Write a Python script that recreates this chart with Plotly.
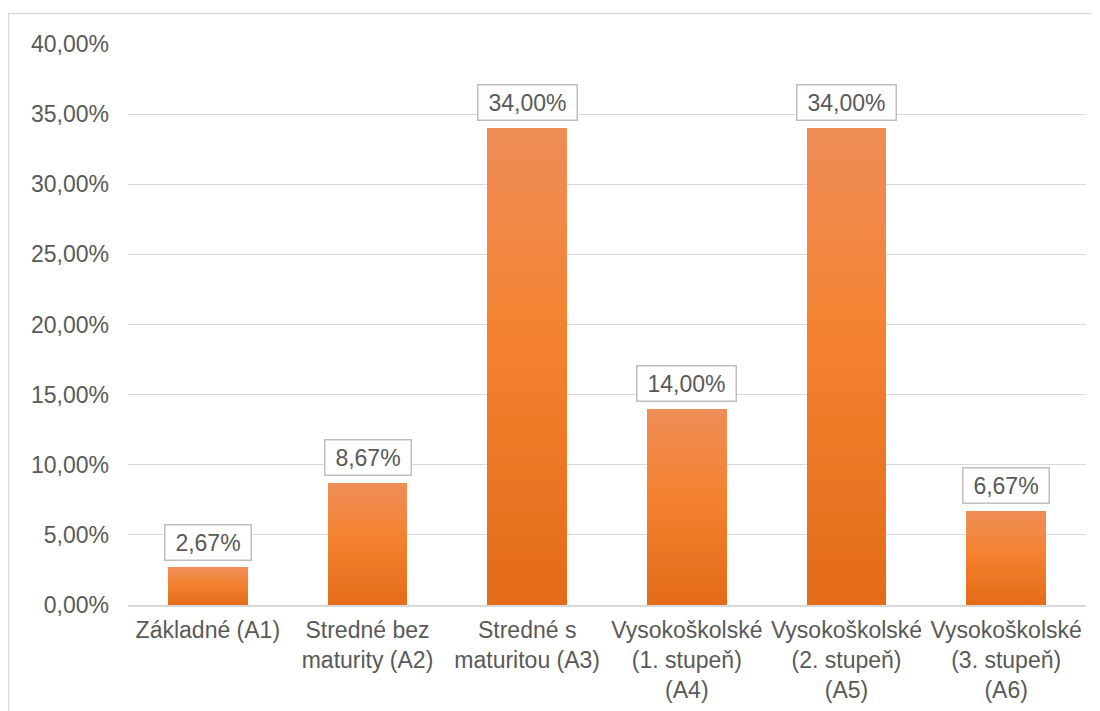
import plotly.graph_objects as go

categories = [
    "Základné (A1)",
    "Stredné bez<br>maturity (A2)",
    "Stredné s<br>maturitou (A3)",
    "Vysokoškolské<br>(1. stupeň)<br>(A4)",
    "Vysokoškolské<br>(2. stupeň)<br>(A5)",
    "Vysokoškolské<br>(3. stupeň)<br>(A6)",
]
values = [0.0267, 0.0867, 0.34, 0.14, 0.34, 0.0667]
labels = ["2,67%", "8,67%", "34,00%", "14,00%", "34,00%", "6,67%"]
tick_vals = [0, 0.05, 0.10, 0.15, 0.20, 0.25, 0.30, 0.35, 0.40]

# gradient stops (bottom -> middle -> top)
grad_stops = [(0.0, (0xE4, 0x6B, 0x18)), (0.55, (0xF4, 0x82, 0x2E)), (1.0, (0xEF, 0x8D, 0x58))]
N_SEG = 30

W, H = 1092, 703
L, R, T, B = 120, 14, 36, 106
pw, ph = W - L - R, H - T - B
FONT = "Liberation Sans, Arial, sans-serif"
FS = 23
GLYPH_EM = {",": 0.278, "%": 0.889}


def text_width(s):
    return sum(GLYPH_EM.get(ch, 0.556) for ch in s) * FS


def grad_color(t):
    for (t0, c0), (t1, c1) in zip(grad_stops[:-1], grad_stops[1:]):
        if t0 <= t <= t1:
            f = (t - t0) / (t1 - t0)
            r, g, b = (round(a + (bb - a) * f) for a, bb in zip(c0, c1))
            return f"rgb({r},{g},{b})"
    return "rgb(239,141,88)"


fig = go.Figure()
for k in range(N_SEG):
    fig.add_trace(go.Bar(
        x=categories, y=[v / N_SEG for v in values], width=0.5,
        marker=dict(color=grad_color((k + 0.5) / N_SEG), line=dict(width=0)),
        hoverinfo="skip",
    ))

for c, v, t in zip(categories, values, labels):
    fig.add_annotation(
        x=c, y=v, text=t, showarrow=False, yanchor="bottom", yshift=7,
        font=dict(family=FONT, size=FS, color="#595959"),
        bordercolor="#BFBFBF", borderwidth=1.5, borderpad=4, bgcolor="white",
        width=round(text_width(t) + 12), height=26,
    )

# outer chart frame
fig.add_shape(
    type="rect", xref="paper", yref="paper",
    x0=(0.5 - L) / pw, x1=(1100 - L) / pw,
    y0=-(B + 10) / ph, y1=1 + (T - 5.5) / ph,
    line=dict(color="#D9D9D9", width=1.5), layer="below",
)

fig.update_layout(
    width=W, height=H,
    margin=dict(l=L, r=R, t=T, b=B, autoexpand=False),
    paper_bgcolor="white", plot_bgcolor="white",
    separators=", ",
    barmode="stack", bargap=0,
    showlegend=False,
    font=dict(family=FONT, size=FS, color="#595959"),
    xaxis=dict(
        showgrid=False, showline=True, linecolor="#D9D9D9", linewidth=1.5,
        ticks="", tickfont=dict(family=FONT, size=FS, color="#595959"),
        ticklabelstandoff=4, automargin=False,
    ),
    yaxis=dict(
        range=[0, 0.40], tickvals=tick_vals, tickformat=".2%",
        showgrid=True, gridcolor="#D9D9D9", gridwidth=1.2,
        zeroline=False, showline=False, ticks="", ticklen=0,
        tickfont=dict(family=FONT, size=FS, color="#595959"),
        ticklabelstandoff=18, automargin=False,
    ),
)

fig.write_html("out.html")
